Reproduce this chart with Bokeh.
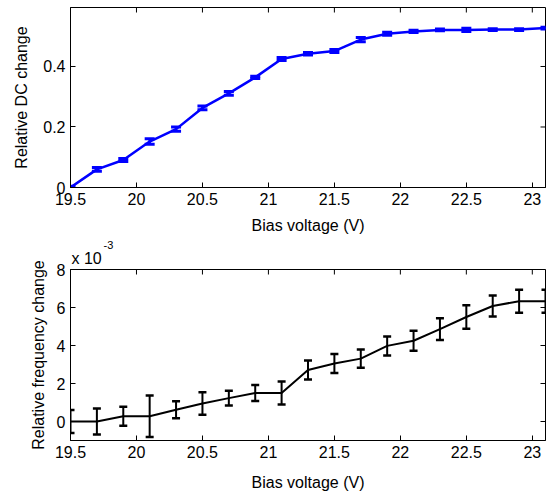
import math
from bokeh.plotting import figure
from bokeh.models import ColumnDataSource, Whisker, TeeHead, FixedTicker, Range1d, Title
from bokeh.layouts import column
from bokeh.embed import file_html
from bokeh.resources import INLINE

# ---- data ----
bias_v = [19.5, 19.7, 19.9, 20.1, 20.3, 20.5, 20.7, 20.9, 21.1, 21.3,
          21.5, 21.7, 21.9, 22.1, 22.3, 22.5, 22.7, 22.9, 23.1]
dc_change = [0.0, 0.060, 0.091, 0.152, 0.193, 0.263, 0.311, 0.364, 0.425, 0.442,
             0.451, 0.489, 0.508, 0.516, 0.521, 0.521, 0.522, 0.522, 0.527]
dc_err = [0.004, 0.006, 0.005, 0.009, 0.007, 0.006, 0.006, 0.004, 0.005, 0.004,
          0.005, 0.007, 0.005, 0.004, 0.003, 0.005, 0.003, 0.003, 0.003]
freq_change_e3 = [0.0, 0.0, 0.28, 0.28, 0.62, 0.95, 1.23, 1.5, 1.5, 2.71,
                  3.05, 3.31, 3.98, 4.25, 4.86, 5.5, 6.08, 6.33, 6.33]
freq_err_e3 = [0.6, 0.68, 0.5, 1.09, 0.45, 0.59, 0.39, 0.42, 0.6, 0.5,
               0.5, 0.48, 0.5, 0.52, 0.57, 0.62, 0.55, 0.6, 0.6]

x_ticks = [19.5, 20, 20.5, 21, 21.5, 22, 22.5, 23]
x_tick_labels = ["19.5", "20", "20.5", "21", "21.5", "22", "22.5", "23"]
dc_ticks = [0, 0.2, 0.4]
dc_tick_labels = ["0", "0.2", "0.4"]
freq_ticks = [0, 2, 4, 6, 8]
freq_tick_labels = ["0", "2", "4", "6", "8"]

X_MIN, X_MAX = 19.5, 23.1
DC_MIN, DC_MAX = 0, 0.595
FR_MIN, FR_MAX = -1, 8

FONT = "Liberation Sans"
FS = "16px"


def style(p, yticks, ylabels, ytop, xlabel, ylabel, xstand, ystand):
    p.xgrid.visible = False
    p.ygrid.visible = False
    p.outline_line_color = "black"
    p.outline_line_width = 1
    p.xaxis.ticker = FixedTicker(ticks=x_ticks)
    p.xaxis.major_label_overrides = {t: l for t, l in zip(x_ticks, x_tick_labels)}
    p.yaxis.ticker = FixedTicker(ticks=yticks)
    p.yaxis.major_label_overrides = {t: l for t, l in zip(yticks, ylabels)}
    p.xaxis.axis_label = xlabel
    p.yaxis.axis_label = ylabel
    for ax in (p.xaxis[0], p.yaxis[0]):
        ax.major_tick_in = 5
        ax.major_tick_out = 0
        ax.minor_tick_line_color = None
        ax.major_label_text_font = FONT
        ax.major_label_text_font_size = FS
        ax.major_label_text_color = "black"
        ax.axis_label_text_font = FONT
        ax.axis_label_text_font_size = FS
        ax.axis_label_text_font_style = "normal"
        ax.axis_label_text_color = "black"
        ax.axis_line_color = "black"
        ax.major_tick_line_color = "black"
        ax.major_label_standoff = 5
    p.xaxis[0].axis_label_standoff = xstand
    p.yaxis[0].axis_label_standoff = ystand
    # mirrored inside ticks on top and right edges (half of each dash is clipped by the frame)
    p.scatter(x_ticks, [ytop] * len(x_ticks), marker="dash", size=10, angle=math.pi / 2,
              line_color="black", line_width=1)
    p.scatter([X_MAX] * len(yticks), yticks, marker="dash", size=10,
              line_color="black", line_width=1)


# ---- top plot ----
src1 = ColumnDataSource(dict(x=bias_v, y=dc_change,
                             lo=[v - e for v, e in zip(dc_change, dc_err)],
                             hi=[v + e for v, e in zip(dc_change, dc_err)]))
p1 = figure(width=550, height=240, output_backend="svg", toolbar_location=None,
            x_range=Range1d(X_MIN, X_MAX), y_range=Range1d(DC_MIN, DC_MAX),
            min_border_left=70, min_border_right=5, min_border_top=7, min_border_bottom=53)
style(p1, dc_ticks, dc_tick_labels, DC_MAX, "Bias voltage (V)", "Relative DC change", 9, 10)
p1.line("x", "y", source=src1, line_color="#0000FF", line_width=2.5)
p1.add_layout(Whisker(source=src1, base="x", lower="lo", upper="hi",
                      line_color="#0000FF", line_width=2.5,
                      lower_head=TeeHead(size=10, line_color="#0000FF", line_width=3),
                      upper_head=TeeHead(size=10, line_color="#0000FF", line_width=3)))

# ---- bottom plot ----
src2 = ColumnDataSource(dict(x=bias_v, y=freq_change_e3,
                             lo=[v - e for v, e in zip(freq_change_e3, freq_err_e3)],
                             hi=[v + e for v, e in zip(freq_change_e3, freq_err_e3)]))
p2 = figure(width=550, height=253, output_backend="svg", toolbar_location=None,
            x_range=Range1d(X_MIN, X_MAX), y_range=Range1d(FR_MIN, FR_MAX),
            min_border_left=70, min_border_right=5, min_border_top=29, min_border_bottom=44)
style(p2, freq_ticks, freq_tick_labels, FR_MAX, "Bias voltage (V)", "Relative frequency change", 13, 7)
p2.line("x", "y", source=src2, line_color="black", line_width=2)
p2.add_layout(Whisker(source=src2, base="x", lower="lo", upper="hi",
                      line_color="black", line_width=2,
                      lower_head=TeeHead(size=8, line_color="black", line_width=2.5),
                      upper_head=TeeHead(size=8, line_color="black", line_width=2.5)))
p2.add_layout(Title(text="x 10", align="left", offset=1, standoff=5, text_font=FONT,
                    text_font_size=FS, text_font_style="normal", text_color="black"), "above")
p2.add_layout(Title(text="-3", align="left", offset=33, standoff=-6, text_font=FONT,
                    text_font_size="11px", text_font_style="normal", text_color="black"), "above")

layout = column(p1, p2, spacing=0)
open("out.html", "w").write(file_html(layout, INLINE))
